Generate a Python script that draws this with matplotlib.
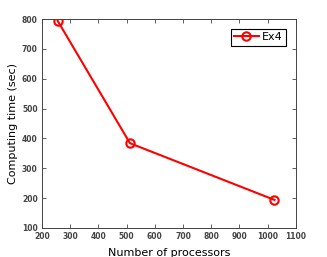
import matplotlib
matplotlib.use('Agg')
import matplotlib.pyplot as plt

# data
processors = [256, 512, 1024]
times = [794, 384, 194]
series_name = 'Ex4'

fig = plt.figure(figsize=(3.27, 2.57), dpi=100)
ax = fig.add_axes([0.128, 0.113, 0.777, 0.813])

ax.plot(processors, times, color='red', linewidth=1.5, marker='o',
        markersize=6, markerfacecolor='none', markeredgewidth=1.5, label=series_name)

ax.set_xlim(200, 1100)
ax.set_ylim(100, 800)
ax.set_xticks(range(200, 1101, 100))
ax.set_yticks(range(100, 801, 100))
ax.tick_params(direction='in', top=True, right=True, length=3, width=0.6,
               labelsize=5.5, colors='#444444')
ax.tick_params(axis='x', pad=3)
ax.tick_params(axis='y', pad=3)
for lab in ax.get_xticklabels() + ax.get_yticklabels():
    lab.set_fontweight('bold')
for sp in ax.spines.values():
    sp.set_color('#444444')
    sp.set_linewidth(0.7)

ax.set_xlabel('Number of processors', fontsize=8, labelpad=5)
ax.set_ylabel('Computing time (sec)', fontsize=8, labelpad=3)

leg = ax.legend(loc='upper right', fontsize=8, fancybox=False, framealpha=1,
                edgecolor='black', borderpad=0.3, handlelength=2.2,
                handletextpad=0.3, borderaxespad=0.9)
leg.get_frame().set_linewidth(0.8)

plt.savefig('out.png', dpi=100)
plt.close()
